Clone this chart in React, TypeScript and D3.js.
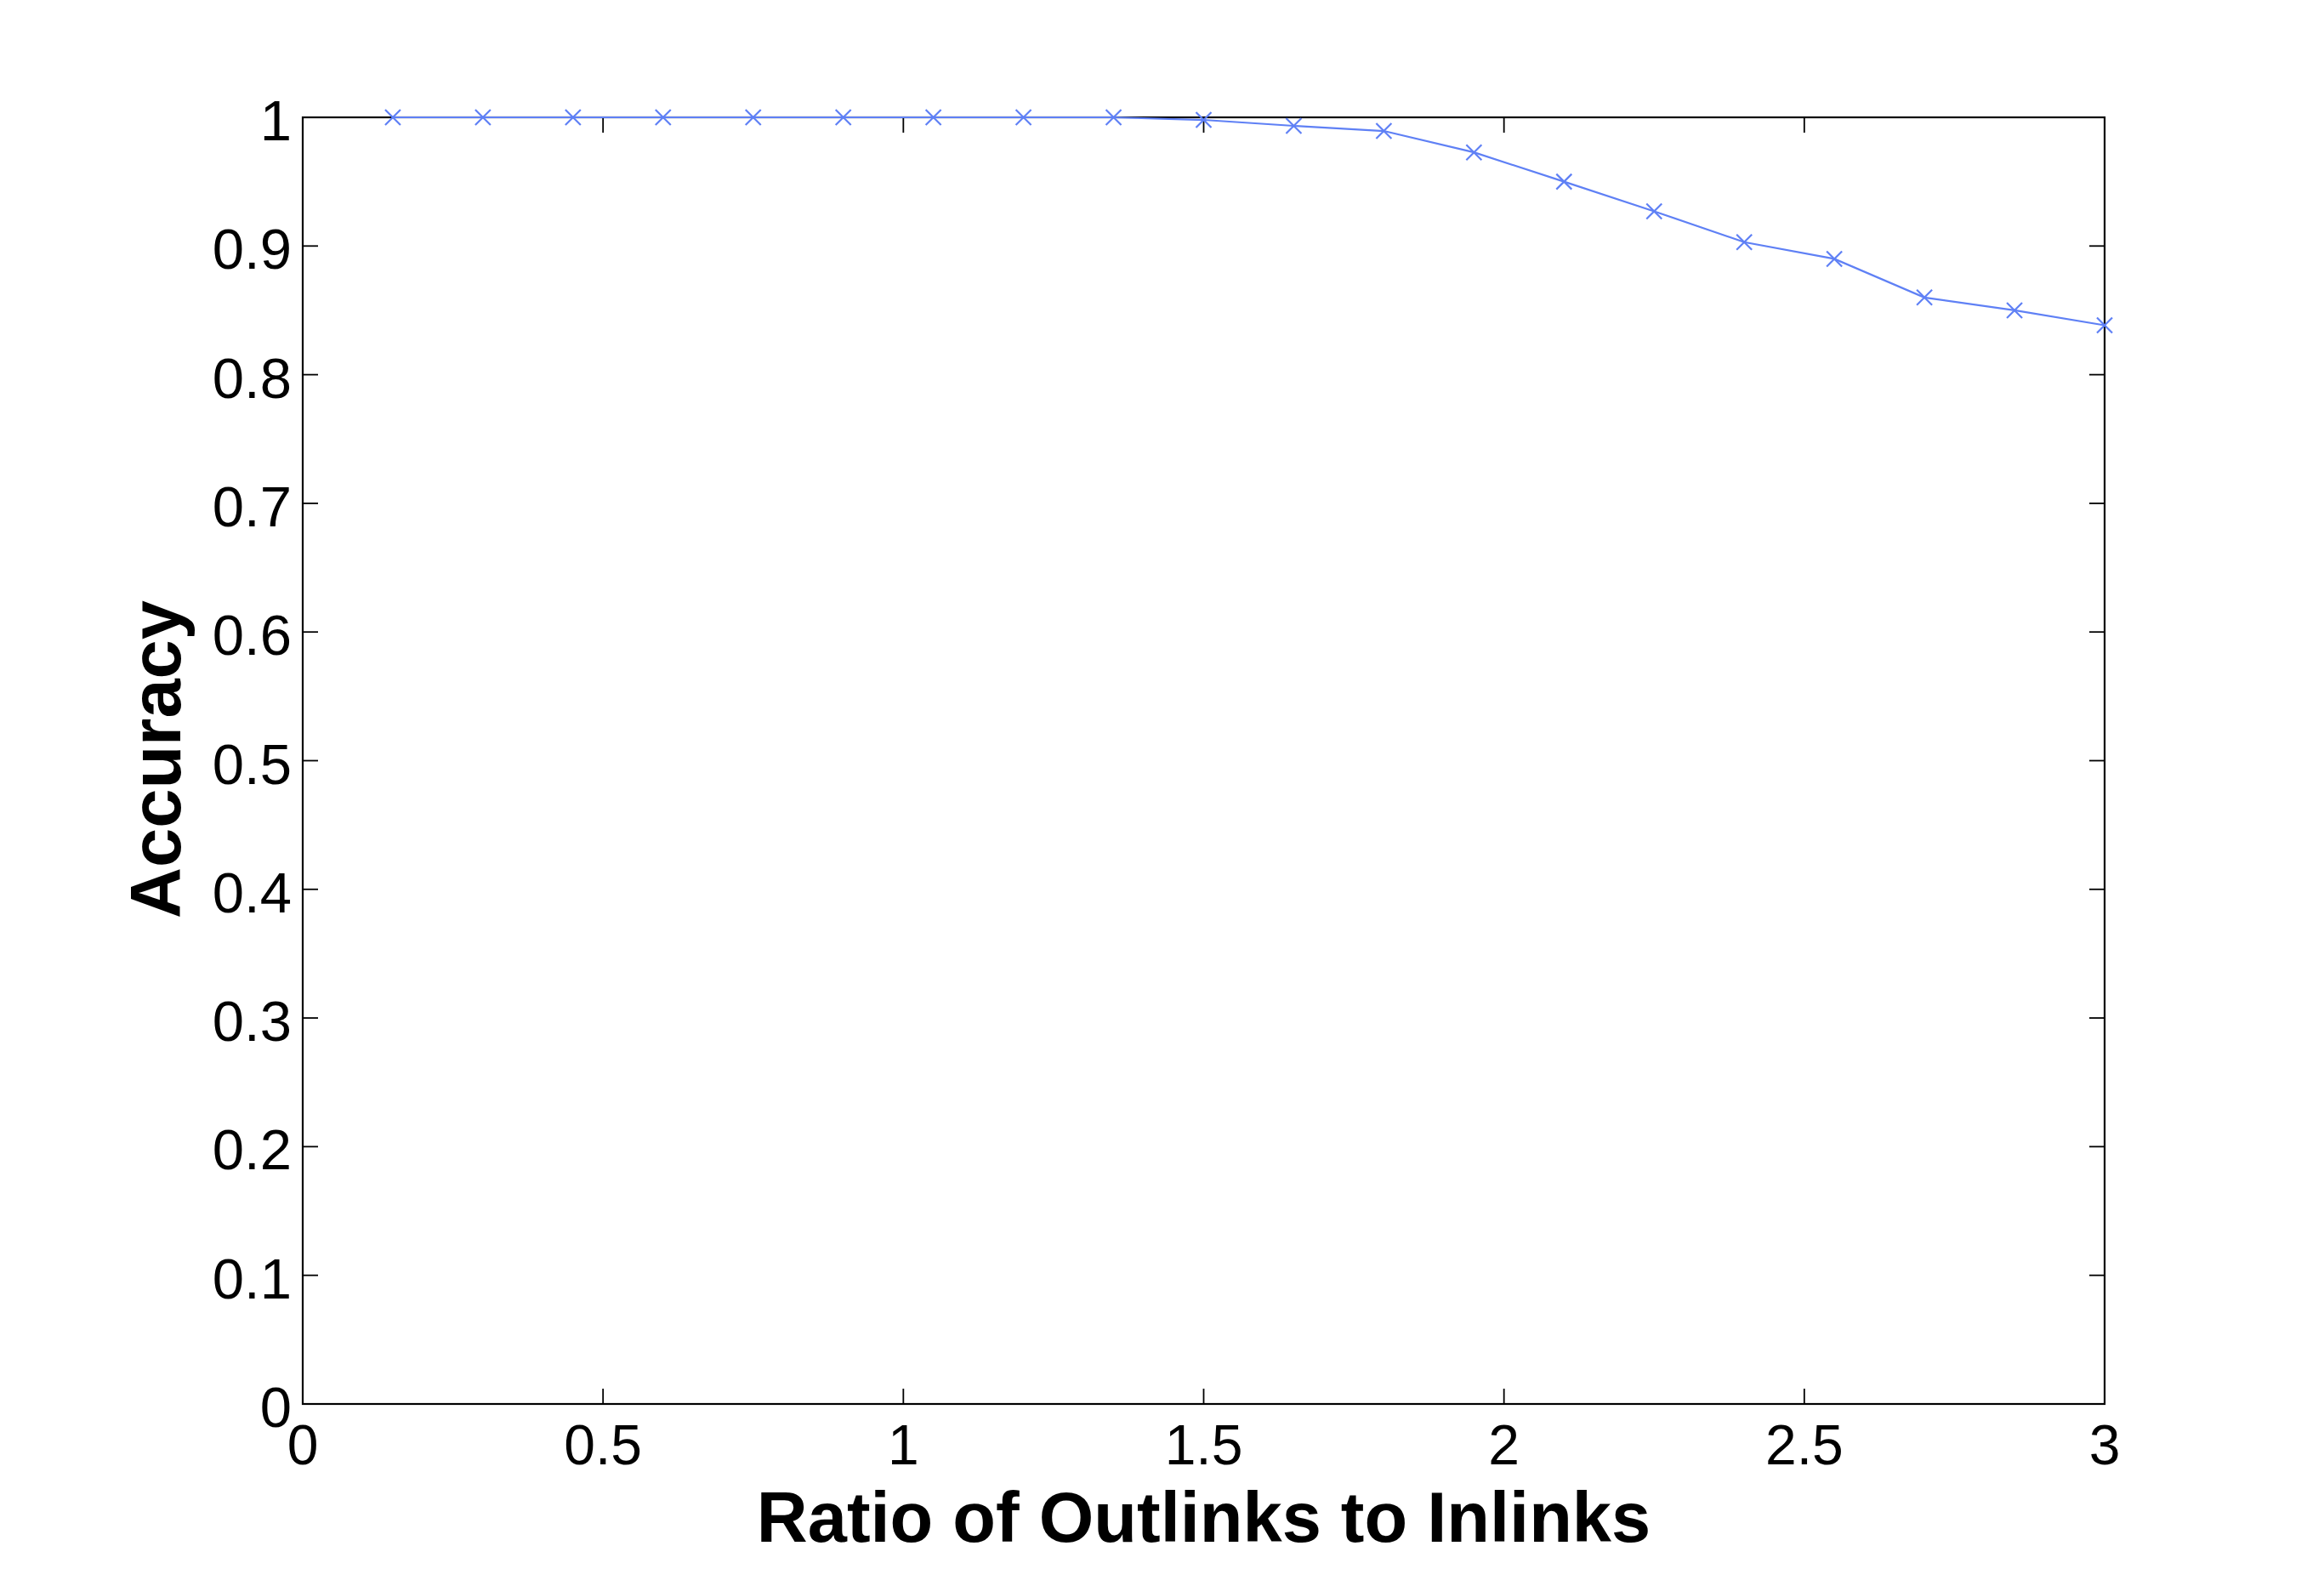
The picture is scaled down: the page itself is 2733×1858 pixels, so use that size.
import React, { useEffect } from "react";
import * as d3 from "d3";

const ratios = [0.15, 0.3, 0.45, 0.6, 0.75, 0.9, 1.05, 1.2, 1.35, 1.5, 1.65, 1.8, 1.95, 2.1, 2.25, 2.4, 2.55, 2.7, 2.85, 3.0];
const accuracy = [1, 1, 1, 1, 1, 1, 1, 1, 1, 0.998, 0.9934, 0.9894, 0.9728, 0.95, 0.927, 0.903, 0.89, 0.86, 0.85, 0.8384];
const xTicks = [0, 0.5, 1, 1.5, 2, 2.5, 3];
const yTicks = [0, 0.1, 0.2, 0.3, 0.4, 0.5, 0.6, 0.7, 0.8, 0.9, 1];
const xLabel = "Ratio of Outlinks to Inlinks";
const yLabel = "Accuracy";

const W = 2733, H = 1858;
const M = { left: 356, right: 2475, top: 138, bottom: 1651 };
const lineColor = "#5f80f5";
const font = "'Liberation Sans', Arial, Helvetica, sans-serif";

export default function App() {
  useEffect(() => {
    document.body.style.margin = "0";
  }, []);
  const x = d3.scaleLinear().domain([0, 3]).range([M.left, M.right]);
  const y = d3.scaleLinear().domain([0, 1]).range([M.bottom, M.top]);
  const line = d3.line<number>().x((_, i) => x(ratios[i])).y((d) => y(d));
  const tl = 18;
  const ms = 9;
  return (
    <svg width={W} height={H} style={{ display: "block", background: "#fff" }}>
      <rect x={M.left} y={M.top} width={M.right - M.left} height={M.bottom - M.top} fill="none" stroke="#000" strokeWidth={2.2} />
      {xTicks.map((t) => (
        <g key={"x" + t}>
          <line x1={x(t)} x2={x(t)} y1={M.bottom} y2={M.bottom - tl} stroke="#000" strokeWidth={1.8} />
          <line x1={x(t)} x2={x(t)} y1={M.top} y2={M.top + tl} stroke="#000" strokeWidth={1.8} />
          <text x={x(t)} y={1722} textAnchor="middle" fontFamily={font} fontSize={66}>{String(t)}</text>
        </g>
      ))}
      {yTicks.map((t) => (
        <g key={"y" + t}>
          <line x1={M.left} x2={M.left + tl} y1={y(t)} y2={y(t)} stroke="#000" strokeWidth={1.8} />
          <line x1={M.right} x2={M.right - tl} y1={y(t)} y2={y(t)} stroke="#000" strokeWidth={1.8} />
          <text x={343} y={y(t) + 27} textAnchor="end" fontFamily={font} fontSize={67}>{String(t)}</text>
        </g>
      ))}
      <path d={line(accuracy) || ""} fill="none" stroke={lineColor} strokeWidth={2.2} />
      {accuracy.map((v, i) => {
        const cx = x(ratios[i]);
        const cy = y(v);
        return (
          <path key={"m" + i} d={`M${cx - ms},${cy - ms}L${cx + ms},${cy + ms}M${cx - ms},${cy + ms}L${cx + ms},${cy - ms}`} stroke={lineColor} strokeWidth={2.2} fill="none" />
        );
      })}
      <text x={(M.left + M.right) / 2} y={1813} textAnchor="middle" fontFamily={font} fontWeight="bold" fontSize={83}>{xLabel}</text>
      <text transform={`translate(212,${893}) rotate(-90)`} textAnchor="middle" fontFamily={font} fontWeight="bold" fontSize={83}>{yLabel}</text>
    </svg>
  );
}
